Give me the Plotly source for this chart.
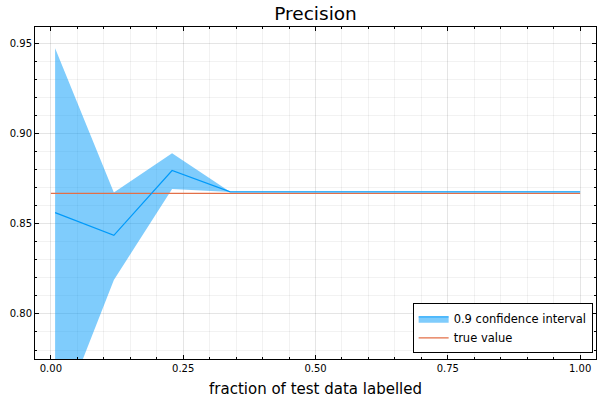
import plotly.graph_objects as go

# fraction of test data labelled
frac = [0.008, 0.119, 0.229, 0.339, 0.449, 0.559, 0.669, 0.780, 0.890, 1.0]
mean_prec = [0.8563, 0.8437, 0.8797, 0.8678, 0.8678, 0.8678, 0.8678, 0.8678, 0.8678, 0.8678]
ci_upper = [0.9476, 0.8675, 0.8893, 0.8678, 0.8678, 0.8678, 0.8678, 0.8678, 0.8678, 0.8678]
ci_lower = [0.7356, 0.8189, 0.8694, 0.8678, 0.8678, 0.8678, 0.8678, 0.8678, 0.8678, 0.8678]
true_x = [0.0, 1.0]
true_val = [0.8670, 0.8670]

blue = "#009AFA"
red = "#E36F47"
band = "rgba(0,154,250,0.5)"

fig = go.Figure()

fig.add_trace(go.Scatter(x=frac, y=ci_lower, mode="lines", line=dict(width=0),
                         showlegend=False, hoverinfo="skip"))
fig.add_trace(go.Scatter(x=frac, y=ci_upper, mode="lines", line=dict(width=0),
                         fill="tonexty", fillcolor=band, showlegend=False, hoverinfo="skip"))
# legend entry for the ribbon
fig.add_trace(go.Scatter(x=[None], y=[None], mode="lines", fill="toself", fillcolor=band,
                         line=dict(color=blue, width=1), name="0.9 confidence interval"))
fig.add_trace(go.Scatter(x=true_x, y=true_val, mode="lines", line=dict(color=red, width=1.2),
                         name="true value"))
fig.add_trace(go.Scatter(x=frac, y=mean_prec, mode="lines", line=dict(color=blue, width=1.2),
                         showlegend=False))

axis_common = dict(
    showline=True, linecolor="black", linewidth=1, mirror="ticks",
    ticks="inside", ticklen=4, tickcolor="black", tickwidth=1,
    showgrid=True, gridcolor="rgba(0,0,0,0.1)", gridwidth=0.5,
    zeroline=False, tickformat=".2f", automargin=False,
    tickfont=dict(family="DejaVu Sans", size=10, color="black"),
)

fig.update_layout(
    width=600, height=400,
    margin=dict(l=35, r=4, t=27, b=41),
    paper_bgcolor="white", plot_bgcolor="white",
    title=dict(text="Precision", x=0.5259, xanchor="center", y=0.967, yanchor="middle",
               font=dict(family="DejaVu Sans", size=18.5, color="black"), automargin=False),
    xaxis=dict(axis_common, range=[-0.03, 1.03], dtick=0.25, tick0=0,
               minor=dict(dtick=0.05, ticks="inside", ticklen=2, tickcolor="black",
                          showgrid=True, gridcolor="rgba(0,0,0,0.05)", gridwidth=0.5),
               title=dict(text="fraction of test data labelled", standoff=10,
                          font=dict(family="DejaVu Sans", size=15, color="black"))),
    yaxis=dict(axis_common, range=[0.775, 0.9594], dtick=0.05, tick0=0,
               minor=dict(dtick=0.01, ticks="inside", ticklen=2, tickcolor="black",
                          showgrid=True, gridcolor="rgba(0,0,0,0.05)", gridwidth=0.5)),
    legend=dict(x=0.994, xanchor="right", y=0.017, yanchor="bottom",
                bgcolor="white", bordercolor="black", borderwidth=1,
                font=dict(family="DejaVu Sans", size=11.5, color="black"),
                itemwidth=30, tracegroupgap=0, traceorder="normal"),
)

# drop the page's default body margin so the figure sits at the window's corner
fig.write_html("out.html", config={"displayModeBar": False},
               post_script="document.body.style.margin='0px';")
